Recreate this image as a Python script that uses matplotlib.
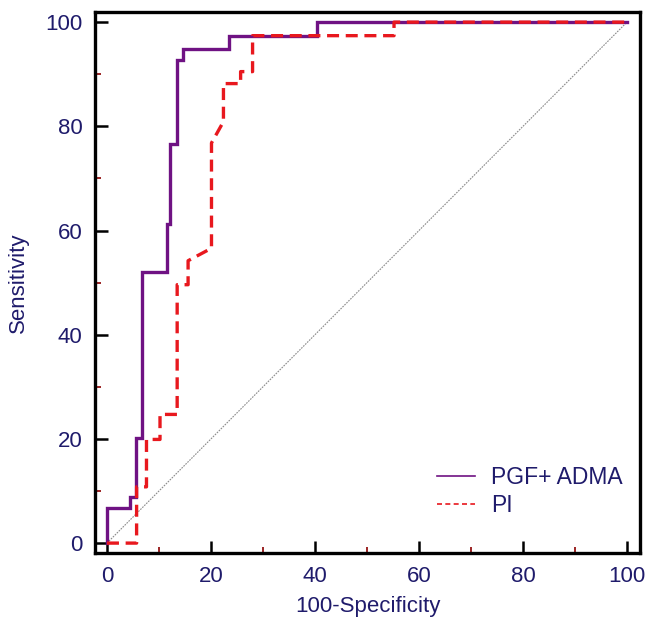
import matplotlib
matplotlib.use("Agg")
import matplotlib.pyplot as plt
from matplotlib.lines import Line2D

# PGF + ADMA ROC curve (100-Specificity, Sensitivity)
pgf_x = [0, 0, 4.4, 4.4, 5.5, 5.5, 6.7, 6.7, 11.5, 11.5, 12.1, 12.1, 13.4, 13.4,
         14.7, 14.7, 23.5, 23.5, 40.3, 40.3, 100]
pgf_y = [0, 6.7, 6.7, 8.9, 8.9, 20.1, 20.1, 52.1, 52.1, 61.2, 61.2, 76.7, 76.7, 92.8,
         92.8, 94.8, 94.8, 97.4, 97.4, 100, 100]

# PI ROC curve
pi_x = [0, 5.7, 5.7, 7.6, 7.6, 10.2, 10.2, 13.5, 13.5, 15.6, 15.6, 20.1, 20.1, 22.4,
        22.4, 25.7, 25.7, 28.0, 28.0, 55.2, 55.2, 100]
pi_y = [0, 0, 10.8, 10.8, 19.9, 19.9, 24.7, 24.7, 49.6, 49.6, 54.2, 56.6, 76.8, 80.9,
        88.2, 88.2, 90.5, 90.5, 97.4, 97.4, 100, 100]

ref_x = [0, 100]
ref_y = [0, 100]

labels = ["PGF+ ADMA", "PI"]
ticks = [0, 20, 40, 60, 80, 100]
minor_ticks = [10, 30, 50, 70, 90]

navy = "#1f1b6b"
purple = "#6f1283"
red = "#e8181e"

plt.rcParams['font.family'] = ['Liberation Sans', 'DejaVu Sans']

fig = plt.figure(figsize=(6.59, 6.32), dpi=100)
ax = fig.add_axes([95 / 659, 1 - 553 / 632, (640 - 95) / 659, (553 - 11.7) / 632])

ax.plot(ref_x, ref_y, color="#8a8a8a", lw=0.8, ls=(0, (1.5, 1)), zorder=1)
ax.plot(pgf_x, pgf_y, color=purple, lw=2.4, zorder=2, solid_joinstyle='miter')
ax.plot(pi_x, pi_y, color=red, lw=2.4, ls=(0, (3.6, 2.0)), zorder=3)

ax.set_xlim(-2.3, 102.5)
ax.set_ylim(-1.9, 102.0)

ax.set_xticks(ticks)
ax.set_yticks(ticks)
ax.set_xticks(minor_ticks, minor=True)
ax.set_yticks(minor_ticks, minor=True)
ax.tick_params(which='major', direction='in', length=9, width=1.8, color='black',
               labelsize=16, labelcolor=navy, pad=9)
ax.tick_params(which='minor', direction='in', length=4, width=1.2, color='#8b0000')

for s in ax.spines.values():
    s.set_linewidth(2.4)
    s.set_color('black')

ax.set_xlabel("100-Specificity", fontsize=16, color=navy, labelpad=7)
ax.set_ylabel("Sensitivity", fontsize=16, color=navy, labelpad=12)

handles = [Line2D([], [], color=purple, lw=1.2),
           Line2D([], [], color=red, lw=1.2, ls=(0, (3, 2)))]
ax.legend(handles, labels, loc='upper left', bbox_to_anchor=(437 / 659, 1 - 466 / 632),
          bbox_transform=fig.transFigure, frameon=False, fontsize=16.5,
          labelcolor=navy, borderpad=0, borderaxespad=0, handlelength=1.66,
          handletextpad=0.7, labelspacing=0.24)

fig.savefig("out.png", dpi=100)
